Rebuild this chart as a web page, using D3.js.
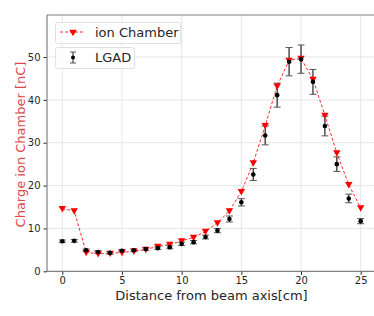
<!DOCTYPE html>
<html>
<head>
<meta charset="utf-8">
<script src="https://cdn.jsdelivr.net/npm/d3@7"></script>
<style>
  body { margin: 0; background: #fff; }
  svg { display: block; font-family: "DejaVu Sans", sans-serif; }
</style>
</head>
<body>
<div id="chart"></div>
<script>
// distance from beam axis [cm]
const distances = [0, 1, 2, 3, 4, 5, 6, 7, 8, 9, 10, 11, 12, 13, 14, 15, 16, 17, 18, 19, 20, 21, 22, 23, 24, 25];

// ion chamber charge [nC]
const ionChamber = [14.6, 14.1, 4.4, 4.1, 4.2, 4.4, 4.7, 5.1, 5.8, 6.3, 7.1, 7.9, 9.3, 11.3, 14.1, 18.6, 25.3, 34.0, 43.2, 49.2, 49.7, 44.8, 36.4, 27.6, 20.2, 14.8];

// LGAD values and their errors
const lgad = [7.0, 7.1, 4.9, 4.5, 4.3, 4.8, 4.9, 5.2, 5.4, 5.6, 6.4, 6.8, 8.0, 9.5, 12.2, 16.1, 22.6, 31.7, 41.1, 48.9, 49.5, 44.2, 33.9, 25.0, 17.0, 11.7];
const lgadErr = [0.3, 0.3, 0.3, 0.3, 0.3, 0.3, 0.3, 0.3, 0.3, 0.35, 0.4, 0.4, 0.45, 0.5, 0.7, 0.85, 1.4, 2.2, 2.8, 3.3, 3.3, 2.9, 2.3, 1.7, 1.0, 0.6];

const xTicks = [0, 5, 10, 15, 20, 25];
const yTicks = [0, 10, 20, 30, 40, 50];

const width = 374, height = 316;
const plot = { left: 47, top: 15, right: 374, bottom: 271.3 };

const svg = d3.select("#chart").append("svg")
    .attr("width", width)
    .attr("height", height);

svg.append("rect").attr("width", width).attr("height", height).attr("fill", "#fff");

const x = d3.scaleLinear().domain([0, 25]).range([62.3, 360.7]);
const y = d3.scaleLinear().domain([0, 50]).range([271.3, 57]);

// grid
svg.append("g")
    .selectAll("line")
    .data(xTicks)
    .join("line")
    .attr("x1", d => x(d)).attr("x2", d => x(d))
    .attr("y1", plot.top).attr("y2", plot.bottom)
    .attr("stroke", "#e6e6e6").attr("stroke-width", 1);

svg.append("g")
    .selectAll("line")
    .data(yTicks.slice(1))
    .join("line")
    .attr("x1", plot.left).attr("x2", plot.right)
    .attr("y1", d => y(d)).attr("y2", d => y(d))
    .attr("stroke", "#e6e6e6").attr("stroke-width", 1);

// axes
const xAxis = svg.append("g")
    .attr("transform", `translate(0,${plot.bottom})`)
    .call(d3.axisBottom(x).tickValues(xTicks).tickSize(3.5).tickPadding(2));
const yAxis = svg.append("g")
    .attr("transform", `translate(${plot.left},0)`)
    .call(d3.axisLeft(y).tickValues(yTicks).tickSize(3.5).tickPadding(3));

[xAxis, yAxis].forEach(a => {
    a.select(".domain").remove();
    a.selectAll("text").attr("font-size", 10).attr("fill", "#262626")
        .attr("font-family", "DejaVu Sans, sans-serif");
    a.selectAll("line").attr("stroke", "#262626");
});

// spines
svg.append("line")
    .attr("x1", plot.left).attr("x2", plot.right)
    .attr("y1", plot.top).attr("y2", plot.top)
    .attr("stroke", "#808080").attr("stroke-width", 1.2);
svg.append("line")
    .attr("x1", plot.left).attr("x2", plot.right)
    .attr("y1", plot.bottom).attr("y2", plot.bottom)
    .attr("stroke", "#808080").attr("stroke-width", 1.2);
svg.append("line")
    .attr("x1", plot.left).attr("x2", plot.left)
    .attr("y1", plot.top).attr("y2", plot.bottom)
    .attr("stroke", "#808080").attr("stroke-width", 1.2);

// labels
svg.append("text")
    .attr("x", 211.5).attr("y", 299.5)
    .attr("text-anchor", "middle")
    .attr("font-size", 13).attr("fill", "#262626")
    .text("Distance from beam axis[cm]");

svg.append("text")
    .attr("transform", `translate(21,${(62 + 227) / 2}) rotate(-90)`)
    .attr("text-anchor", "middle")
    .attr("dominant-baseline", "middle")
    .attr("font-size", 13).attr("fill", "#e04848")
    .text("Charge ion Chamber [nC]");

// ion chamber line
const ionData = distances.map((d, i) => ({ x: d, v: ionChamber[i] }));
const lgadData = distances.map((d, i) => ({ x: d, v: lgad[i], e: lgadErr[i] }));

svg.append("path")
    .datum(ionData)
    .attr("fill", "none")
    .attr("stroke", "#ff2a2a")
    .attr("stroke-width", 1)
    .attr("stroke-dasharray", "3,2")
    .attr("d", d3.line().x(d => x(d.x)).y(d => y(d.v)));

const triangle = d3.symbol().type(d3.symbolTriangle).size(24);

// LGAD error bars
const eb = svg.append("g").selectAll("g").data(lgadData).join("g");
eb.append("line")
    .attr("x1", d => x(d.x)).attr("x2", d => x(d.x))
    .attr("y1", d => y(d.v - d.e)).attr("y2", d => y(d.v + d.e))
    .attr("stroke", "#222").attr("stroke-width", 1.2);
eb.selectAll(".cap")
    .data(d => [d.v - d.e, d.v + d.e].map(v => ({ x: d.x, v })))
    .join("line")
    .attr("class", "cap")
    .attr("x1", d => x(d.x) - 3.5).attr("x2", d => x(d.x) + 3.5)
    .attr("y1", d => y(d.v)).attr("y2", d => y(d.v))
    .attr("stroke", "#555").attr("stroke-width", 1);

// ion chamber markers
svg.append("g")
    .selectAll("path")
    .data(ionData)
    .join("path")
    .attr("d", triangle)
    .attr("transform", d => `translate(${x(d.x)},${y(d.v) - 0.5}) rotate(180)`)
    .attr("fill", "#ff0000");

// LGAD points
svg.append("g")
    .selectAll("circle")
    .data(lgadData)
    .join("circle")
    .attr("cx", d => x(d.x)).attr("cy", d => y(d.v))
    .attr("r", 2.3)
    .attr("fill", "#000");

// legend
const legend = svg.append("g").attr("font-size", 13).attr("fill", "#262626");

legend.append("rect")
    .attr("x", 55.5).attr("y", 22.5).attr("width", 125).attr("height", 21).attr("rx", 2)
    .attr("fill", "#fff").attr("fill-opacity", 0.8).attr("stroke", "#e0e0e0");
legend.append("line")
    .attr("x1", 60).attr("x2", 85).attr("y1", 32).attr("y2", 32)
    .attr("stroke", "#ff2a2a").attr("stroke-dasharray", "3,2");
legend.append("path")
    .attr("d", triangle)
    .attr("transform", "translate(73,32) rotate(180)")
    .attr("fill", "#ff0000");
legend.append("text").attr("x", 95).attr("y", 36.5).text("ion Chamber");

legend.append("rect")
    .attr("x", 55.5).attr("y", 47.5).attr("width", 79).attr("height", 21).attr("rx", 2)
    .attr("fill", "#fff").attr("fill-opacity", 0.8).attr("stroke", "#e0e0e0");
legend.append("line")
    .attr("x1", 73).attr("x2", 73).attr("y1", 52).attr("y2", 63)
    .attr("stroke", "#222");
legend.selectAll(".lcap").data([52, 63]).join("line")
    .attr("x1", 70).attr("x2", 76).attr("y1", d => d).attr("y2", d => d)
    .attr("stroke", "#555");
legend.append("circle").attr("cx", 73).attr("cy", 57.5).attr("r", 2).attr("fill", "#000");
legend.append("text").attr("x", 95).attr("y", 62).text("LGAD");
</script>
</body>
</html>
